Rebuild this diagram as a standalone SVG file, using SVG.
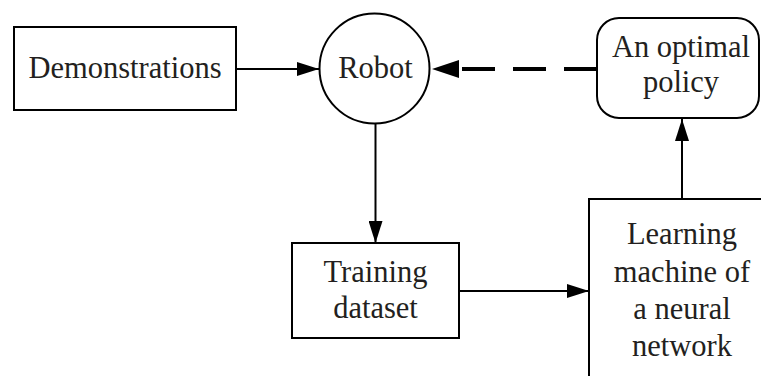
<svg xmlns="http://www.w3.org/2000/svg" width="761" height="376" viewBox="0 0 761 376">
<style>
.box{fill:#fff;stroke:#000;stroke-width:2}
.t{font-family:'Liberation Serif',serif;font-size:30.5px;fill:#231f20;text-anchor:middle}
.c{fill:none;stroke:#000;stroke-width:2}
.d{fill:none;stroke:#000;stroke-width:4;stroke-dasharray:33 18}
</style>
<defs>
<marker id="a" markerUnits="userSpaceOnUse" markerWidth="22" markerHeight="14" refX="22" refY="7" orient="auto">
<path d="M0,0 L22,7 L0,14 Z" fill="#000"/>
</marker>
</defs>
<rect width="761" height="376" fill="#fff"/>
<g id="connectors">
<line class="c" x1="236" y1="69" x2="319" y2="69" marker-end="url(#a)"/>
<line class="c" x1="375.5" y1="124" x2="375.5" y2="243" marker-end="url(#a)"/>
<line class="c" x1="459" y1="291" x2="589" y2="291" marker-end="url(#a)"/>
<line class="c" x1="682" y1="199" x2="682" y2="119" marker-end="url(#a)"/>
<line class="d" x1="597" y1="69" x2="459" y2="69"/>
<path d="M459,60 L432,69 L459,78 Z" fill="#000"/>
</g>
<g id="demonstrations">
<rect class="box" x="14" y="27" width="222" height="83"/>
<text class="t" x="125" y="78" font-family="Liberation Serif, serif">Demonstrations</text>
</g>
<g id="robot">
<circle class="box" cx="374.5" cy="68.5" r="55"/>
<text class="t" x="375.5" y="78" font-family="Liberation Serif, serif">Robot</text>
</g>
<g id="policy">
<rect class="box" x="597" y="18" width="162" height="100" rx="22" ry="22"/>
<text class="t" x="681" y="57" font-family="Liberation Serif, serif">An optimal</text>
<text class="t" x="681" y="92" font-family="Liberation Serif, serif">policy</text>
</g>
<g id="training">
<rect class="box" x="292" y="243" width="167" height="95"/>
<text class="t" x="375.5" y="282" font-family="Liberation Serif, serif">Training</text>
<text class="t" x="375.5" y="318" font-family="Liberation Serif, serif">dataset</text>
</g>
<g id="learning">
<rect class="box" x="589" y="199" width="200" height="200"/>
<text class="t" x="682" y="244" font-family="Liberation Serif, serif">Learning</text>
<text class="t" x="682" y="282" font-family="Liberation Serif, serif">machine of</text>
<text class="t" x="682" y="319" font-family="Liberation Serif, serif">a neural</text>
<text class="t" x="682" y="356" font-family="Liberation Serif, serif">network</text>
</g>
</svg>
